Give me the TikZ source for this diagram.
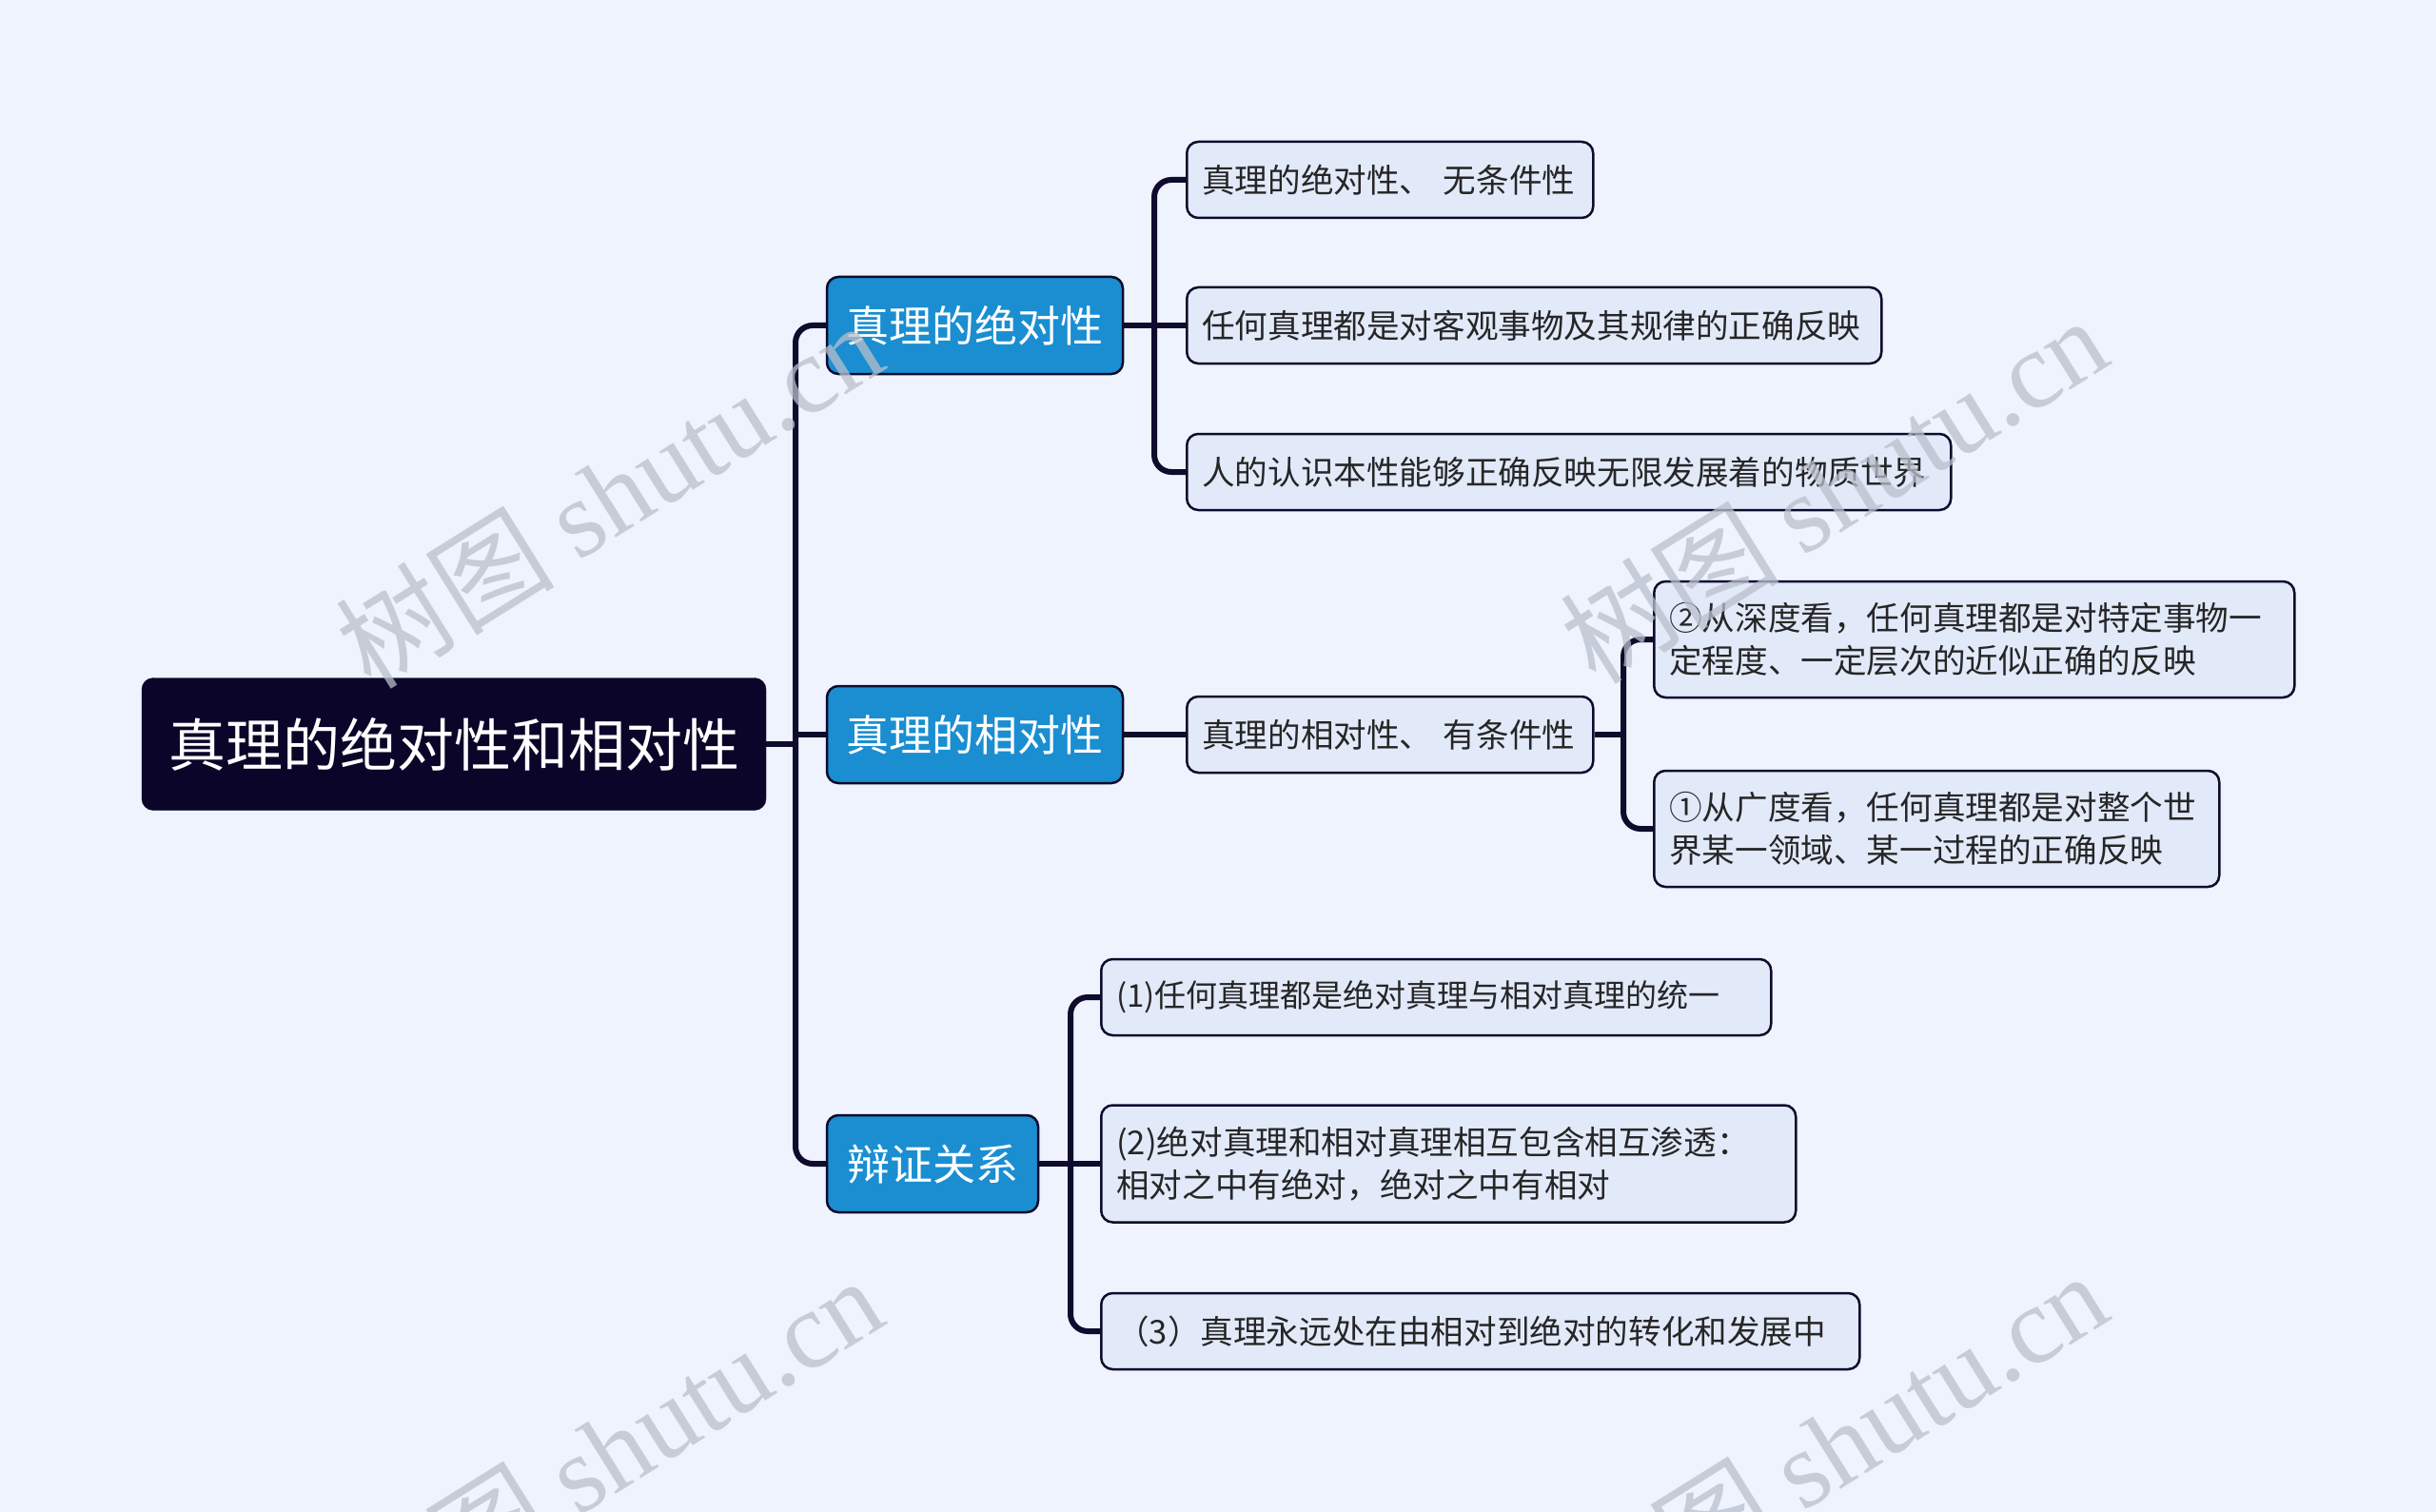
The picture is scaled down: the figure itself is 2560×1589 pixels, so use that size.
\documentclass[tikz,border=0pt]{standalone}
\usepackage{fontspec}
\setmainfont{Noto Sans CJK SC}
\newfontfamily\wmlat{Liberation Serif}
\definecolor{bgc}{HTML}{EEF3FD}
\definecolor{linec}{HTML}{0E0B2C}
\definecolor{rootc}{HTML}{0B0629}
\definecolor{bluec}{HTML}{1A8ED1}
\definecolor{leafc}{HTML}{E2EAFA}
\definecolor{txtc}{HTML}{262626}
\definecolor{wmc}{HTML}{B9BFCC}
\pgfdeclarelayer{bglayer}
\pgfdeclarelayer{edgelayer}
\pgfsetlayers{bglayer,edgelayer,main}
\begin{document}
\begin{tikzpicture}[x=1pt,y=-1pt,
  conn/.style={draw=linec, line width=6pt, rounded corners=18pt},
  rootbox/.style={rectangle, rounded corners=12pt, fill=rootc, draw=rootc, text=white,
    font=\fontsize{60}{70}\selectfont, minimum width=656pt, minimum height=139pt, inner sep=0pt},
  topicbox/.style={rectangle, rounded corners=12pt, fill=bluec, draw=linec, line width=2.5pt,
    text=white, font=\fontsize{45}{54}\selectfont, minimum height=102pt, inner sep=0pt},
  leafbox/.style={rectangle, rounded corners=12pt, fill=leafc, draw=linec, line width=2.5pt,
    text=txtc, font=\fontsize{34.6}{45}\selectfont, align=left, inner xsep=16pt, inner ysep=0pt,
    anchor=west, minimum height=80pt},
  wm/.style={text=wmc, text opacity=0.75, rotate=32, font=\fontsize{115}{120}\selectfont}
]
\clip (0,0) rectangle (2560,1589);
\useasboundingbox (0,0) rectangle (2560,1589);
\begin{pgfonlayer}{bglayer}
  \fill[bgc] (0,0) rectangle (2560,1589);
\end{pgfonlayer}

% root and main topics
\node[rootbox] (root) at (477,782) {真理的绝对性和相对性};
\node[topicbox, minimum width=311pt] (A) at (1024.5,342) {真理的绝对性};
\node[topicbox, minimum width=311pt] (B) at (1024.5,772) {真理的相对性};
\node[topicbox, minimum width=222pt] (C) at (980,1223) {辩证关系};

% leaves
\node[leafbox, text width=395pt] (a1) at (1246,189) {真理的绝对性、 无条件性};
\node[leafbox, text width=698pt] (a2) at (1246,342) {任何真理都是对客观事物及其规律的正确反映};
\node[leafbox, text width=771pt] (a3) at (1246,496) {人的认识本性能够正确反映无限发展着的物质世界};
\node[leafbox, text width=395pt] (b1) at (1246,772) {真理的相对性、 有条件性};
\node[leafbox, text width=641pt, minimum height=122pt] (b11) at (1737,672)
  {②从深度看，任何真理都是对特定事物一\\定程度、一定层次的近似正确的反映};
\node[leafbox, text width=562pt, minimum height=122pt] (b12) at (1737,871)
  {①从广度看，任何真理都是对整个世\\界某一领域、某一过程的正确反映};
\node[leafbox, text width=672pt, font=\fontsize{33}{45}\selectfont] (c1) at (1156,1048)
  {(1)任何真理都是绝对真理与相对真理的统一};
\node[leafbox, text width=698pt, minimum height=123pt] (c2) at (1156,1223)
  {(2)绝对真理和相对真理相互包含相互渗透：\\相对之中有绝对，绝对之中有相对};
\node[leafbox, text width=765pt] (c3) at (1156,1399)
  {（3）真理永远处在由相对到绝对的转化和发展中};

% junction points
\coordinate (t0) at (836,782);
\coordinate (ta) at (1213,342);
\coordinate (tb) at (1706,772);
\coordinate (tc) at (1125,1223);

\begin{pgfonlayer}{edgelayer}
  \draw[conn] (root.east) -- (t0);
  \draw[conn] (A.west) -| (t0) |- (C.west);
  \draw[conn] (B.west) -- (B.west -| t0);
  \draw[conn] (A.east) -- (a2.west);
  \draw[conn] (a1.west) -| (ta) |- (a3.west);
  \draw[conn] (B.east) -- (b1.west);
  \draw[conn] (b1.east) -- (tb);
  \draw[conn] (b11.west) -| (tb) |- (b12.west);
  \draw[conn] (C.east) -- (c2.west);
  \draw[conn] (c1.west) -| (tc) |- (c3.west);
\end{pgfonlayer}

% watermarks
\node[wm] (w1) at (640,519) {树图 {\wmlat shutu.cn}};
\node[wm] (w2) at (1927,514) {树图 {\wmlat shutu.cn}};
\node[wm] (w3) at (640,1523) {树图 {\wmlat shutu.cn}};
\node[wm] (w4) at (1927,1518) {树图 {\wmlat shutu.cn}};
\end{tikzpicture}
\end{document}
